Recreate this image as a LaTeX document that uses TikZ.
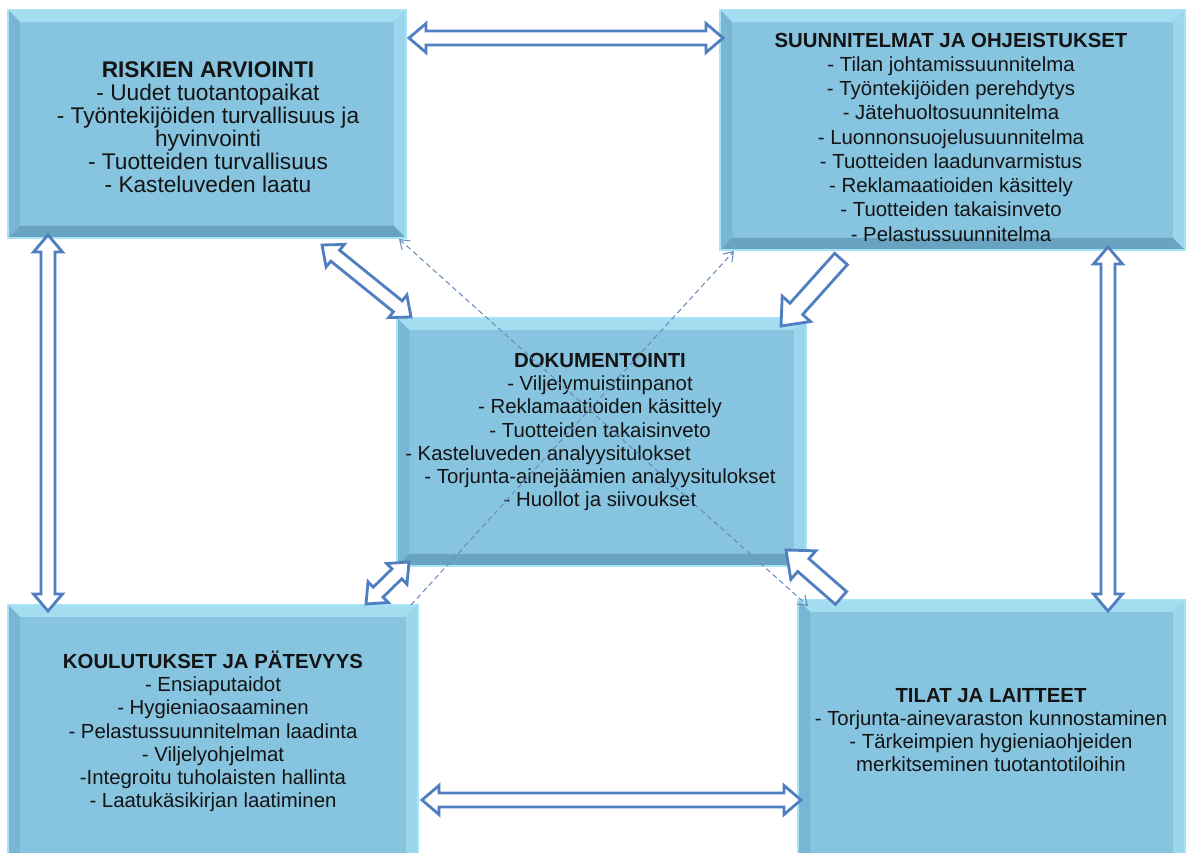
\documentclass[tikz,border=0pt]{standalone}
\usepackage{fontspec}
\setmainfont{Liberation Sans}
\usetikzlibrary{calc,arrows.meta}
\definecolor{boxfill}{HTML}{86C4DF}
\definecolor{bevtop}{HTML}{A4DCF0}
\definecolor{bevleft}{HTML}{78B7D4}
\definecolor{bevright}{HTML}{9CD6EC}
\definecolor{bevbot}{HTML}{68A3C0}
\definecolor{boxedge}{HTML}{A6E3F7}
\definecolor{arrblue}{HTML}{4F7FC0}
\definecolor{dashblue}{HTML}{6A8CBF}
\definecolor{txtcol}{HTML}{141414}
\newcommand\bevw{0.24cm}
\newcommand\ahl{0.34cm}
\newcommand\ahw{0.29cm}
\newcommand\asw{0.14cm}
\newcommand\dblarrow[2]{%
  \draw[blockarrow] (#1)
   -- ($(#1)!\ahl!(#2)!\ahw!90:(#2)$) -- ($(#1)!\ahl!(#2)!\asw!90:(#2)$)
   -- ($(#2)!\ahl!(#1)!\asw!-90:(#1)$) -- ($(#2)!\ahl!(#1)!\ahw!-90:(#1)$)
   -- (#2)
   -- ($(#2)!\ahl!(#1)!\ahw!90:(#1)$) -- ($(#2)!\ahl!(#1)!\asw!90:(#1)$)
   -- ($(#1)!\ahl!(#2)!\asw!-90:(#2)$) -- ($(#1)!\ahl!(#2)!\ahw!-90:(#2)$)
   -- cycle;}
\newcommand\sglarrow[2]{% tail, tip
  \draw[blockarrow] (#2)
   -- ($(#2)!\ahl!(#1)!\ahw!90:(#1)$) -- ($(#2)!\ahl!(#1)!\asw!90:(#1)$)
   -- ($(#1)!\asw!-90:(#2)$) -- ($(#1)!\asw!90:(#2)$)
   -- ($(#2)!\ahl!(#1)!\asw!-90:(#1)$) -- ($(#2)!\ahl!(#1)!\ahw!-90:(#1)$)
   -- cycle;}
\tikzset{
  bevbox/.style={rectangle, inner sep=0pt, fill=boxfill, draw=boxedge, line width=1pt,
    path picture={
      \coordinate (pnw) at (path picture bounding box.north west);
      \coordinate (pne) at (path picture bounding box.north east);
      \coordinate (psw) at (path picture bounding box.south west);
      \coordinate (pse) at (path picture bounding box.south east);
      \fill[bevtop] (pnw) -- (pne) -- ([xshift=-\bevw,yshift=-\bevw]pne) -- ([xshift=\bevw,yshift=-\bevw]pnw) -- cycle;
      \fill[bevleft] (pnw) -- (psw) -- ([xshift=\bevw,yshift=\bevw]psw) -- ([xshift=\bevw,yshift=-\bevw]pnw) -- cycle;
      \fill[bevright] (pne) -- (pse) -- ([xshift=-\bevw,yshift=\bevw]pse) -- ([xshift=-\bevw,yshift=-\bevw]pne) -- cycle;
      \fill[bevbot] (psw) -- (pse) -- ([xshift=-\bevw,yshift=\bevw]pse) -- ([xshift=\bevw,yshift=\bevw]psw) -- cycle;
    }},
  txt/.style={align=center, text=txtcol, inner sep=0pt, font=\fontsize{11.6}{13.2}\selectfont},
  blockarrow/.style={draw=arrblue, fill=white, line width=1.6pt, line join=miter},
  dashline/.style={draw=dashblue, line width=0.6pt, dash pattern=on 3pt off 2pt},
  thinhead/.style={arrows={-{Straight Barb[length=5pt,width=7pt]}}}
}
\begin{document}
\begin{tikzpicture}[x=0.02cm,y=-0.02cm]
\clip (0,0) rectangle (1190,852);
\fill[white] (0,0) rectangle (1190,852);

% boxes
\node[bevbox, minimum width=7.96cm, minimum height=4.56cm] (risk) at (207,124) {};
\node[bevbox, minimum width=9.3cm, minimum height=4.8cm] (suun) at (952.5,130) {};
\node[bevbox, minimum width=8.18cm, minimum height=4.96cm] (dok) at (601.5,442) {};
\node[bevbox, minimum width=8.2cm, minimum height=5.3cm] (koul) at (213,737.5) {};
\node[bevbox, minimum width=7.74cm, minimum height=5.4cm] (tila) at (991.5,735) {};

% texts
\node[txt, font=\fontsize{12.9}{13.1}\selectfont] (risktxt) at (208,127.5) {\textbf{RISKIEN ARVIOINTI}\\- Uudet tuotantopaikat\\- Työntekijöiden turvallisuus ja\\hyvinvointi\\- Tuotteiden turvallisuus\\- Kasteluveden laatu};
\node[txt, font=\fontsize{11.6}{13.8}\selectfont] (suuntxt) at (951,137) {\textbf{SUUNNITELMAT JA OHJEISTUKSET}\\- Tilan johtamissuunnitelma\\- Työntekijöiden perehdytys\\- Jätehuoltosuunnitelma\\- Luonnonsuojelusuunnitelma\\- Tuotteiden laadunvarmistus\\- Reklamaatioiden käsittely\\- Tuotteiden takaisinveto\\- Pelastussuunnitelma};
\node[txt] (doktxt) at (600,432) {\textbf{DOKUMENTOINTI}\\- Viljelymuistiinpanot\\- Reklamaatioiden käsittely\\- Tuotteiden takaisinveto\\\hspace*{-2.08cm}- Kasteluveden analyysitulokset\\- Torjunta-ainejäämien analyysitulokset\\- Huollot ja siivoukset};
\node[txt] (koultxt) at (213,731.5) {\textbf{KOULUTUKSET JA PÄTEVYYS}\\- Ensiaputaidot\\- Hygieniaosaaminen\\- Pelastussuunnitelman laadinta\\- Viljelyohjelmat\\-Integroitu tuholaisten hallinta\\- Laatukäsikirjan laatiminen};
\node[txt] (tilatxt) at (991,730) {\textbf{TILAT JA LAITTEET}\\- Torjunta-ainevaraston kunnostaminen\\- Tärkeimpien hygieniaohjeiden\\merkitseminen tuotantotiloihin};

% arrow end points
\coordinate (aTopL) at (409,38);
\coordinate (aTopR) at (723,38);
\coordinate (aBotL) at (422,800);
\coordinate (aBotR) at (801,800);
\coordinate (aLT) at (48,235);
\coordinate (aLB) at (48,611);
\coordinate (aRT) at (1108,247);
\coordinate (aRB) at (1108,611);
\coordinate (aRD1) at (322,245);
\coordinate (aRD2) at (411,317);
\coordinate (aKD1) at (366,604);
\coordinate (aKD2) at (409,562);
\coordinate (aSDt) at (841,259);
\coordinate (aSDh) at (781,326);
\coordinate (aTDt) at (841,598);
\coordinate (aTDh) at (786,550);

\dblarrow{aTopL}{aTopR}
\dblarrow{aBotL}{aBotR}
\dblarrow{aLT}{aLB}
\dblarrow{aRT}{aRB}
\dblarrow{aRD1}{aRD2}
\dblarrow{aKD1}{aKD2}
\renewcommand\ahl{0.46cm}
\renewcommand\ahw{0.38cm}
\renewcommand\asw{0.17cm}
\sglarrow{aSDt}{aSDh}
\sglarrow{aTDt}{aTDh}

% dashed thin connectors
\coordinate (dK) at (411,605);
\coordinate (dS) at (734,251);
\coordinate (dR) at (399,239);
\coordinate (dT) at (808,606);
\draw[dashline, thinhead] (dK) -- (dS);
\draw[dashline, arrows={{Straight Barb[length=5pt,width=7pt]}-{Straight Barb[length=5pt,width=7pt]}}] (dR) -- (dT);
\end{tikzpicture}
\end{document}
